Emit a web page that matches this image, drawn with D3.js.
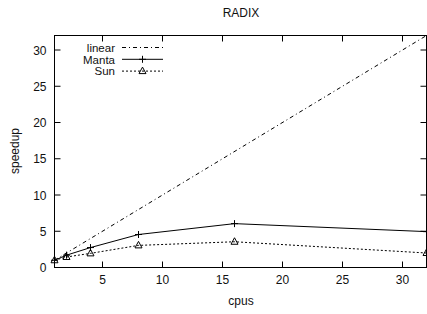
<!DOCTYPE html>
<html>
<head>
<meta charset="utf-8">
<script src="https://cdn.jsdelivr.net/npm/d3@7"></script>
<style>
  body { margin: 0; background: #fff; }
  svg { display: block; font-family: "Liberation Sans", Arial, sans-serif; }
  text { fill: #111; }
</style>
</head>
<body>
<svg id="chart" width="427" height="314"></svg>
<script>
const cpus = [1, 2, 4, 8, 16, 32];
const linear = [1, 32];
const manta = [1, 1.7, 2.75, 4.55, 6.05, 4.95];
const sun = [1, 1.45, 1.95, 3.05, 3.55, 2.0];
const xTicks = [5, 10, 15, 20, 25, 30];
const yTicks = [0, 5, 10, 15, 20, 25, 30];

const svg = d3.select("#chart");
const m = { left: 54.5, right: 426.5, top: 35.5, bottom: 267.5 };

const x = d3.scaleLinear().domain([1, 32]).range([m.left, m.right]);
const y = d3.scaleLinear().domain([0, 32]).range([m.bottom, m.top]);

// frame
svg.append("rect")
  .attr("x", m.left).attr("y", m.top)
  .attr("width", m.right - m.left).attr("height", m.bottom - m.top)
  .attr("fill", "none").attr("stroke", "#000").attr("stroke-width", 1);

// ticks, mirrored and pointing inward like gnuplot
const tl = 6;
xTicks.forEach((t) => {
  svg.append("line").attr("x1", x(t)).attr("x2", x(t))
    .attr("y1", m.bottom).attr("y2", m.bottom - tl).attr("stroke", "#000");
  svg.append("line").attr("x1", x(t)).attr("x2", x(t))
    .attr("y1", m.top).attr("y2", m.top + tl).attr("stroke", "#000");
  svg.append("text").attr("x", x(t)).attr("y", m.bottom + 16)
    .attr("text-anchor", "middle").attr("font-size", 12).text(t);
});
yTicks.forEach((t) => {
  svg.append("line").attr("x1", m.left).attr("x2", m.left + tl)
    .attr("y1", y(t)).attr("y2", y(t)).attr("stroke", "#000");
  svg.append("line").attr("x1", m.right).attr("x2", m.right - tl)
    .attr("y1", y(t)).attr("y2", y(t)).attr("stroke", "#000");
  svg.append("text").attr("x", m.left - 8).attr("y", y(t) + 4.5)
    .attr("text-anchor", "end").attr("font-size", 12).text(t);
});

// labels
svg.append("text").attr("x", 241).attr("y", 17)
  .attr("text-anchor", "middle").attr("font-size", 12).text("RADIX");
svg.append("text").attr("x", 241).attr("y", 305)
  .attr("text-anchor", "middle").attr("font-size", 12).text("cpus");
svg.append("text").attr("transform", "translate(19,151) rotate(-90)")
  .attr("text-anchor", "middle").attr("font-size", 12).text("speedup");

const line = d3.line().x((d) => x(d[0])).y((d) => y(d[1]));
const plot = svg.append("g");

plot.append("path")
  .attr("d", line([[1, linear[0]], [32, linear[1]]]))
  .attr("fill", "none").attr("stroke", "#000").attr("stroke-width", 1)
  .attr("stroke-dasharray", "4,3,1,3");

plot.append("path")
  .attr("d", line(cpus.map((c, i) => [c, manta[i]])))
  .attr("fill", "none").attr("stroke", "#000").attr("stroke-width", 1);

plot.append("path")
  .attr("d", line(cpus.map((c, i) => [c, sun[i]])))
  .attr("fill", "none").attr("stroke", "#000").attr("stroke-width", 1)
  .attr("stroke-dasharray", "2,2");

function drawPlus(g, cx, cy) {
  g.append("path").attr("d", `M${cx - 3.5},${cy}H${cx + 3.5}M${cx},${cy - 3.5}V${cy + 3.5}`)
    .attr("stroke", "#000").attr("fill", "none");
}
function drawTri(g, cx, cy) {
  g.append("path").attr("d", `M${cx},${cy - 4}L${cx + 3.5},${cy + 2.5}L${cx - 3.5},${cy + 2.5}Z`)
    .attr("stroke", "#000").attr("fill", "none");
}
cpus.forEach((c, i) => drawPlus(plot, x(c), y(manta[i])));
cpus.forEach((c, i) => drawTri(plot, x(c), y(sun[i])));

// legend
const legendNames = ["linear", "Manta", "Sun"];
const lx1 = 122, lx2 = 163;
legendNames.forEach((n, i) => {
  const ly = 47.5 + i * 11.8;
  svg.append("text").attr("x", 115).attr("y", ly + 4.2)
    .attr("text-anchor", "end").attr("font-size", 11.5).text(n);
  const p = svg.append("path").attr("d", `M${lx1},${ly}H${lx2}`)
    .attr("stroke", "#000").attr("fill", "none");
  if (i === 0) p.attr("stroke-dasharray", "4,3,1,3");
  if (i === 2) p.attr("stroke-dasharray", "2,2");
  if (i === 1) drawPlus(svg, (lx1 + lx2) / 2, ly);
  if (i === 2) drawTri(svg, (lx1 + lx2) / 2, ly);
});
</script>
</body>
</html>
